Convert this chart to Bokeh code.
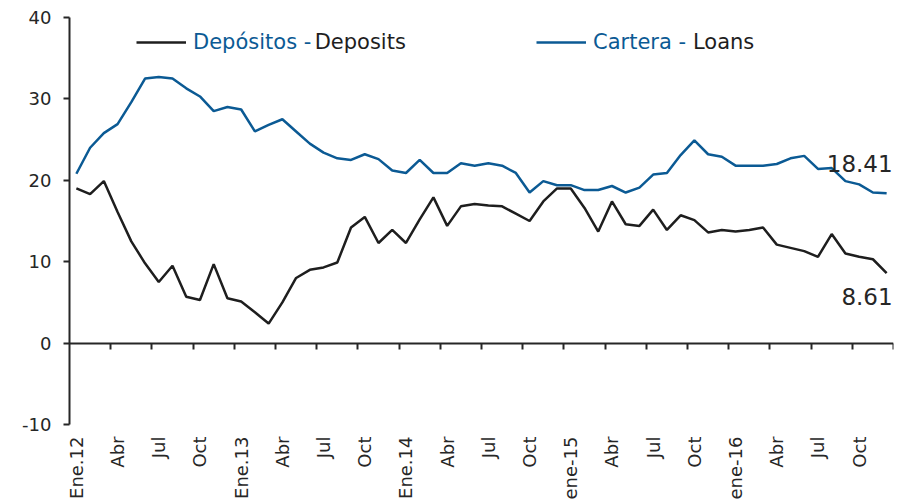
import numpy as np
from bokeh.plotting import figure
from bokeh.models import (FixedTicker, LinearAxis, Range1d, Legend, LegendItem, Label)
from bokeh.embed import file_html
from bokeh.resources import INLINE

# ---- data (monthly, Jan 2012 - Dec 2016, annual growth %) ----
tick_names = ["Ene.12", "Abr", "Jul", "Oct", "Ene.13", "Abr", "Jul", "Oct",
              "Ene.14", "Abr", "Jul", "Oct", "ene-15", "Abr", "Jul", "Oct",
              "ene-16", "Abr", "Jul", "Oct"]

y_ticks = [-10, 0, 10, 20, 30, 40]

deposits = [19.0, 18.3, 19.9, 16.1, 12.5, 9.8, 7.5, 9.5, 5.7, 5.3, 9.7, 5.5,
            5.1, 3.8, 2.4, 5.0, 8.0, 9.0, 9.3, 9.9, 14.2, 15.5, 12.3, 13.9,
            12.3, 15.2, 17.9, 14.4, 16.8, 17.1, 16.9, 16.8, 15.9, 15.0, 17.4, 19.0,
            19.0, 16.6, 13.7, 17.4, 14.6, 14.4, 16.4, 13.9, 15.7, 15.1, 13.6, 13.9,
            13.7, 13.9, 14.2, 12.1, 11.7, 11.3, 10.6, 13.4, 11.0, 10.6, 10.3, 8.61]

loans = [20.8, 24.0, 25.8, 26.9, 29.6, 32.5, 32.7, 32.5, 31.3, 30.3, 28.5, 29.0,
         28.7, 26.0, 26.8, 27.5, 26.0, 24.5, 23.4, 22.7, 22.5, 23.2, 22.6, 21.2,
         20.9, 22.5, 20.9, 20.9, 22.1, 21.8, 22.1, 21.8, 20.9, 18.5, 19.9, 19.4,
         19.4, 18.8, 18.8, 19.3, 18.5, 19.1, 20.7, 20.9, 23.1, 24.9, 23.2, 22.9,
         21.8, 21.8, 21.8, 22.0, 22.7, 23.0, 21.4, 21.5, 19.9, 19.5, 18.5, 18.41]

legend_dep_es, legend_dep_en = "Depósitos -", "Deposits"
legend_loan_es, legend_loan_en = "Cartera -", "Loans"

n = len(deposits)
months = list(range(n))

BLUE = "#0b5a94"
DARK = "#1e1e1e"
AXIS = "#262626"
FONT = "DejaVu Sans"

p = figure(width=903, height=504,
           x_range=Range1d(-0.5, n - 0.5), y_range=Range1d(-10, 40),
           output_backend="svg", toolbar_location=None,
           x_axis_type=None, y_axis_type=None,
           min_border_left=69, min_border_right=10,
           min_border_top=17, min_border_bottom=80)
p.outline_line_color = None
p.background_fill_color = "white"
p.border_fill_color = "white"

# y axis
yaxis = LinearAxis(ticker=FixedTicker(ticks=y_ticks),
                   major_label_overrides={t: str(t) for t in y_ticks})
yaxis.axis_line_color = AXIS
yaxis.axis_line_width = 2
yaxis.major_tick_line_color = AXIS
yaxis.major_tick_line_width = 2
yaxis.major_tick_in = 0
yaxis.major_tick_out = 6
yaxis.minor_tick_line_color = None
yaxis.major_label_standoff = 12
yaxis.major_label_text_font = FONT
yaxis.major_label_text_font_size = "18px"
yaxis.major_label_text_color = AXIS
p.add_layout(yaxis, "left")

# x axis line crossing at zero, ticks at category boundaries
zero_axis = LinearAxis(fixed_location=0,
                       ticker=FixedTicker(ticks=list(np.arange(2.5, n, 3))))
zero_axis.axis_line_color = AXIS
zero_axis.axis_line_width = 2
zero_axis.major_tick_line_color = AXIS
zero_axis.major_tick_line_width = 2
zero_axis.major_tick_in = 0
zero_axis.major_tick_out = 6
zero_axis.minor_tick_line_color = None
zero_axis.major_label_text_font_size = "0px"
zero_axis.major_label_text_color = None
p.add_layout(zero_axis, "below")

# category labels at the bottom
label_pos = list(range(0, n, 3))
lab_axis = LinearAxis(ticker=FixedTicker(ticks=label_pos),
                      major_label_overrides={pos: name for pos, name in zip(label_pos, tick_names)})
lab_axis.axis_line_color = None
lab_axis.major_tick_line_color = None
lab_axis.minor_tick_line_color = None
lab_axis.major_tick_in = 0
lab_axis.major_tick_out = 0
lab_axis.major_label_orientation = np.pi / 2
lab_axis.major_label_standoff = 12
lab_axis.major_label_text_font = FONT
lab_axis.major_label_text_font_size = "18px"
lab_axis.major_label_text_color = AXIS
p.add_layout(lab_axis, "below")

r_dep = p.line(months, deposits, line_width=2.5, color=DARK)
r_loan = p.line(months, loans, line_width=2.5, color=BLUE)

def make_legend(label, renderer, loc):
    lg = Legend(items=[LegendItem(label=label, renderers=[renderer])], location=loc)
    lg.padding = 0
    lg.margin = 0
    lg.border_line_color = None
    lg.background_fill_alpha = 0
    lg.glyph_width = 50
    lg.glyph_height = 20
    lg.label_height = 20
    lg.label_standoff = 7
    lg.label_text_font = FONT
    lg.label_text_font_size = "21px"
    lg.label_text_color = BLUE
    return lg

p.add_layout(make_legend(legend_dep_es, r_dep, (67, 370)))
p.add_layout(make_legend(legend_loan_es, r_loan, (467, 370)))

for txt, xi in [(legend_dep_en, 17.35), (legend_loan_en, 44.9)]:
    p.add_layout(Label(x=xi, y=37.0, text=txt, text_font=FONT, text_font_size="21px",
                       text_color=DARK, text_baseline="middle", text_align="left"))

# end-value annotations
p.add_layout(Label(x=months[-1], y=22.1, x_offset=6, text=f"{loans[-1]:.2f}",
                   text_font=FONT, text_font_size="23px", text_color=AXIS,
                   text_align="right", text_baseline="alphabetic"))
p.add_layout(Label(x=months[-1], y=5.7, x_offset=6, text=f"{deposits[-1]:.2f}",
                   text_font=FONT, text_font_size="23px", text_color=AXIS,
                   text_align="right", text_baseline="alphabetic"))

open("out.html", "w").write(file_html(p, INLINE))
